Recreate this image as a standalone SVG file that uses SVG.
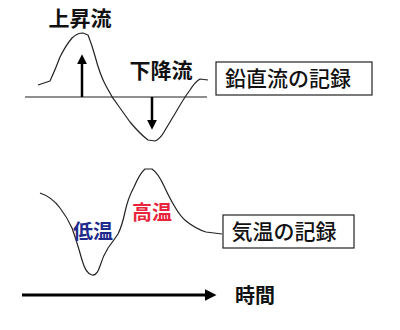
<svg xmlns="http://www.w3.org/2000/svg" width="400" height="330" viewBox="0 0 400 330">
<style>
.t{font-family:"Noto Sans CJK JP","Noto Sans CJK SC",sans-serif;font-weight:bold;fill:#111}
.b{font-family:"Noto Sans CJK JP","Noto Sans CJK SC",sans-serif;font-weight:500;fill:#111}
.c{fill:none;stroke:#222;stroke-width:1.2;stroke-linejoin:round}
.box{fill:#fff;stroke:#222;stroke-width:1.2}
</style>
<defs>
<marker id="ah" markerWidth="4" markerHeight="4" refX="2.5" refY="2" orient="auto" markerUnits="strokeWidth">
<path d="M0,0 L4,2 L0,4 Z" fill="#000"/>
</marker>
</defs>
<rect width="400" height="330" fill="#fff"/>
<g id="vertical-record">
<line x1="25" y1="97" x2="207" y2="97" stroke="#222" stroke-width="1.2"/>
<path class="c" d="M38,85 L50,81 Q56,68 60,57 Q66,45 72,38 Q77,33 83,33 L88,35 Q92,45 95,56 Q100,75 106,86 Q112,98 120,108 L130,122 Q140,134 148,140 L155,141 Q160,139 164,132 Q170,122 176,112 Q184,98 190,90 Q195,82 200,79 L208,80"/>
</g>
<g id="temperature-record">
<path class="c" d="M40,193 Q52,197 60,208 Q67,217 72,228 Q77,242 82,260 Q86,274 92,275 Q97,276 100,266 Q103,256 108,248 Q114,240 118,234 Q122,226 125,212 Q128,198 134,187 Q140,173 145,169 L152,169 Q158,173 164,186 Q170,199 175,207 Q180,216 186,221 Q196,229 206,232 L222,234"/>
</g>
<g id="connectors">
<line x1="82" y1="97" x2="82" y2="58" stroke="#000" stroke-width="2.5" marker-end="url(#ah)"/>
<line x1="152" y1="97" x2="152" y2="126" stroke="#000" stroke-width="2.5" marker-end="url(#ah)"/>
<line x1="22" y1="295" x2="212" y2="295" stroke="#000" stroke-width="3" marker-end="url(#ah)"/>
</g>
<g id="label-up"><text class="t" x="80" y="26" font-size="21" text-anchor="middle">上昇流</text></g>
<g id="label-down"><text class="t" x="161" y="78" font-size="21" text-anchor="middle">下降流</text></g>
<g id="box-vertical">
<rect class="box" x="216" y="62" width="156" height="33"/>
<text class="b" x="288" y="86" font-size="21" text-anchor="middle">鉛直流の記録</text>
</g>
<g id="label-low"><text class="t" x="93" y="239" font-size="20" text-anchor="middle" style="fill:#1f2a8c">低温</text></g>
<g id="label-high"><text class="t" x="152" y="220" font-size="20" text-anchor="middle" style="fill:#e8243c">高温</text></g>
<g id="box-temp">
<rect class="box" x="223" y="215" width="131" height="33"/>
<text class="b" x="284" y="239" font-size="21" text-anchor="middle">気温の記録</text>
</g>
<g id="label-time"><text class="t" x="255" y="303" font-size="20" text-anchor="middle">時間</text></g>
</svg>
